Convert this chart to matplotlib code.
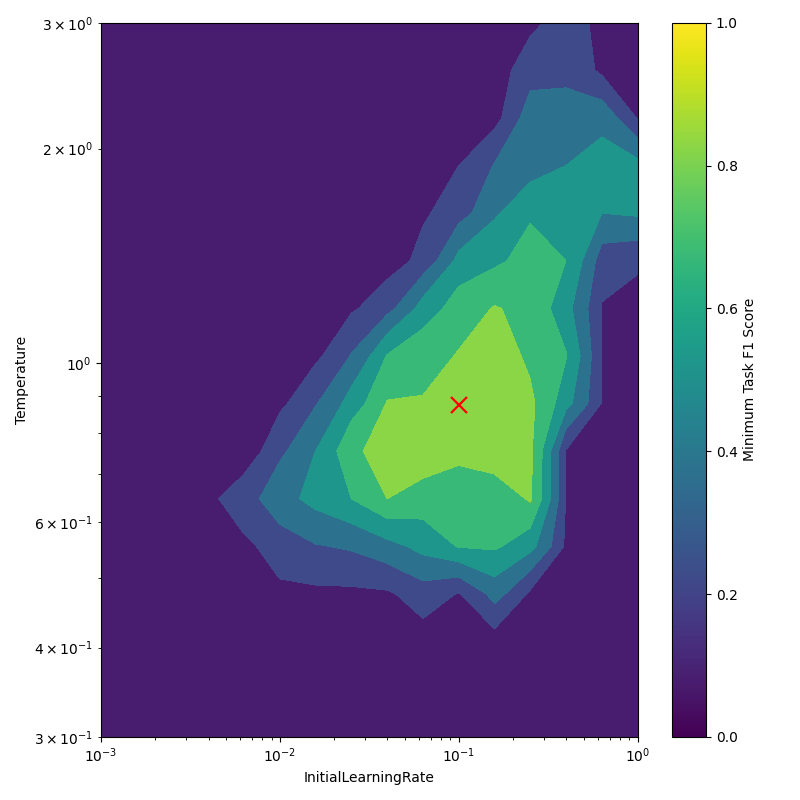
## Contour map of minimum task F1 score over learning rate and temperature.

import numpy as np
import matplotlib.pyplot as plt
import matplotlib as mpl

## grid
learning_rates = [0.001, 0.001585, 0.002512, 0.003981, 0.00631, 0.01, 0.01585, 0.02512,
                  0.03981, 0.0631, 0.1, 0.1585, 0.2512, 0.3981, 0.631, 1.0]
temperatures = [0.3, 0.3498, 0.4078, 0.4755, 0.5543, 0.6463, 0.7536, 0.8786,
                1.0243, 1.1943, 1.3924, 1.6234, 1.8928, 2.2068, 2.5729, 3.0]

# one row per temperature (bottom to top), one column per learning rate
f1_scores = [
  [0.08]*16,
  [0.08]*16,
  [0.08]*16,
  [0.08, 0.08, 0.08, 0.08, 0.08, 0.12, 0.12, 0.12, 0.13, 0.23, 0.14, 0.36, 0.12, 0.08, 0.08, 0.08],
  [0.08, 0.08, 0.08, 0.08, 0.12, 0.22, 0.29, 0.32, 0.40, 0.50, 0.61, 0.62, 0.50, 0.12, 0.08, 0.08],
  [0.08, 0.08, 0.08, 0.12, 0.24, 0.40, 0.50, 0.60, 0.75, 0.68, 0.64, 0.65, 0.77, 0.14, 0.08, 0.08],
  [0.08, 0.08, 0.08, 0.08, 0.06, 0.27, 0.45, 0.73, 0.80, 0.85, 0.80, 0.85, 0.78, 0.14, 0.08, 0.08],
  [0.08, 0.08, 0.08, 0.08, 0.08, 0.12, 0.29, 0.52, 0.76, 0.76, 0.85, 0.85, 0.78, 0.50, 0.14, 0.08],
  [0.08, 0.08, 0.08, 0.08, 0.08, 0.08, 0.12, 0.31, 0.61, 0.70, 0.76, 0.82, 0.72, 0.61, 0.14, 0.08],
  [0.08, 0.08, 0.08, 0.08, 0.08, 0.08, 0.08, 0.13, 0.25, 0.52, 0.68, 0.76, 0.70, 0.50, 0.14, 0.08],
  [0.08, 0.08, 0.08, 0.08, 0.08, 0.08, 0.08, 0.08, 0.08, 0.20, 0.50, 0.57, 0.67, 0.60, 0.22, 0.18],
  [0.08, 0.08, 0.08, 0.08, 0.08, 0.08, 0.08, 0.08, 0.08, 0.13, 0.24, 0.43, 0.58, 0.52, 0.45, 0.47],
  [0.08, 0.08, 0.08, 0.08, 0.08, 0.08, 0.08, 0.08, 0.08, 0.08, 0.15, 0.31, 0.375, 0.45, 0.52, 0.50],
  [0.08, 0.08, 0.08, 0.08, 0.08, 0.08, 0.08, 0.08, 0.08, 0.08, 0.08, 0.10, 0.40, 0.38, 0.40, 0.14],
  [0.08, 0.08, 0.08, 0.08, 0.08, 0.08, 0.08, 0.08, 0.08, 0.08, 0.08, 0.10, 0.22, 0.25, 0.12, 0.08],
  [0.08, 0.08, 0.08, 0.08, 0.08, 0.08, 0.08, 0.08, 0.08, 0.08, 0.08, 0.08, 0.12, 0.22, 0.10, 0.08],
]

contour_levels = [0.0, 0.15, 0.3, 0.45, 0.6, 0.75, 0.9]
best_lr = 0.1
best_temp = 0.875

fig = plt.figure(figsize=(8, 8), dpi=100)
ax = fig.add_axes([0.126, 0.079, 0.671, 0.8925])
cax = fig.add_axes([0.84, 0.079, 0.0425, 0.8925])

norm = mpl.colors.Normalize(vmin=0.0, vmax=1.0)
ax.contourf(learning_rates, temperatures, np.array(f1_scores),
            levels=contour_levels, cmap='viridis', norm=norm)
ax.plot(best_lr, best_temp, 'x', color='red', markersize=11, markeredgewidth=1.6)

ax.set_xscale('log')
ax.set_yscale('log')
ax.set_xlim(1e-3, 1.0)
ax.set_ylim(0.3, 3.0)
ax.set_xlabel('InitialLearningRate')
ax.set_ylabel('Temperature')

sm = mpl.cm.ScalarMappable(norm=norm, cmap='viridis')
cb = fig.colorbar(sm, cax=cax)
cb.set_label('Minimum Task F1 Score')

plt.savefig('out.png')
